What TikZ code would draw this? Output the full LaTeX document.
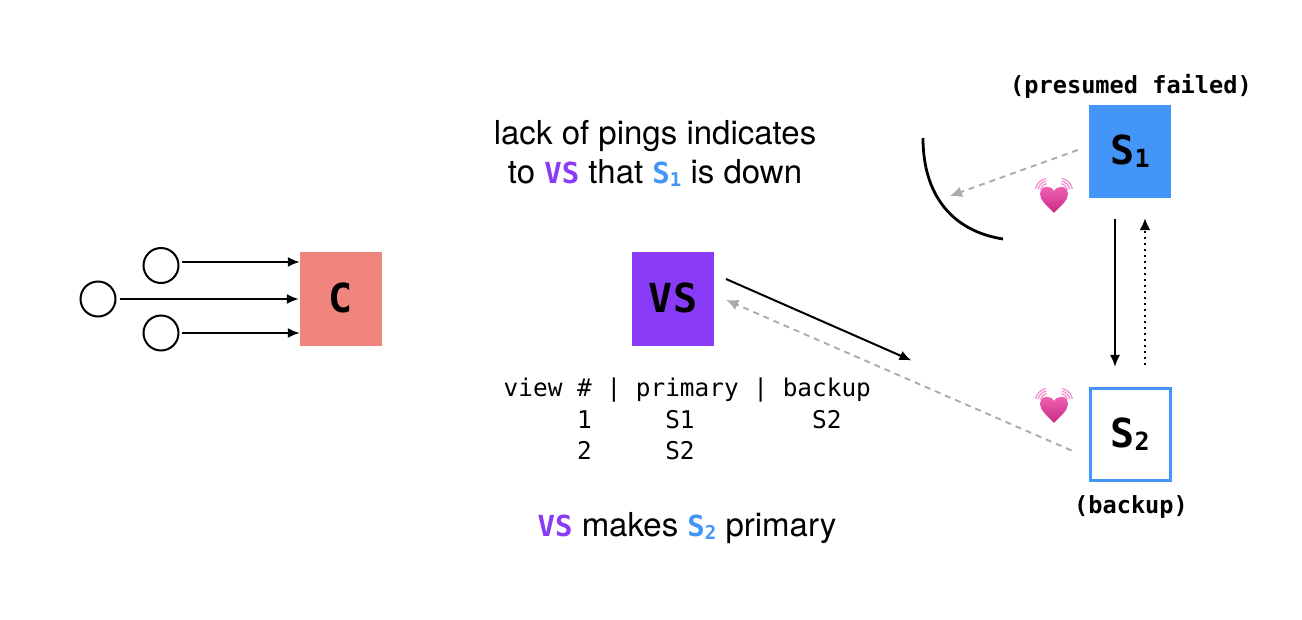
\documentclass[tikz,border=0pt]{standalone}
\usepackage{fontspec}
\setmainfont{TeX Gyre Heros}
\newfontfamily\monof{DejaVu Sans Mono}
\usetikzlibrary{arrows.meta}
\definecolor{cbox}{HTML}{F0857E}
\definecolor{vsc}{HTML}{8A3BF7}
\definecolor{sc}{HTML}{4395F8}
\definecolor{gr}{HTML}{ABABAB}
\definecolor{hearttop}{HTML}{EE62B2}
\definecolor{heartbot}{HTML}{C92A84}
\definecolor{heartarc}{HTML}{F293CF}
\newcommand{\lbl}[2]{\raisebox{-2pt}{{\fontsize{40}{40}\selectfont\bfseries\monof #1}{\fontsize{25}{25}\selectfont\bfseries\monof\raisebox{-3pt}{#2}}}}
\newcommand{\inl}[3]{{\color{#1}\fontsize{29}{29}\selectfont\bfseries\monof #2{\fontsize{19}{19}\selectfont\raisebox{-3pt}{#3}}}}
\newcommand{\beatheart}[2]{%
\begin{scope}[shift={(#1,#2)}]
\shade[top color=hearttop,bottom color=heartbot,draw=none]
 (0,16) .. controls (-6,9) and (-14,4) .. (-14,-3) .. controls (-14,-9) and (-9,-11) .. (-6,-10)
 .. controls (-3,-10) and (-1,-8) .. (0,-6) .. controls (1,-8) and (3,-10) .. (6,-10)
 .. controls (9,-11) and (14,-9) .. (14,-3) .. controls (14,4) and (6,9) .. (0,16) -- cycle;
\foreach \r in {7.5,10,12.5}{
 \draw[heartarc,line width=1.3pt] (-6,-6) ++(-100:\r) arc[start angle=-100,end angle=-170,radius=\r];
 \draw[heartarc,line width=1.3pt] (6,-6) ++(-80:\r) arc[start angle=-80,end angle=-10,radius=\r];
}
\end{scope}}
\tikzset{
 x=1pt,y=-1pt,
 box/.style={minimum width=82pt,minimum height=94pt,inner sep=0pt,draw=none,text=black},
 circ/.style={circle,draw=black,line width=2pt,minimum size=35pt,inner sep=0pt},
 arr/.style={-{Latex[length=12pt,width=10pt]},line width=2pt,black},
 garr/.style={-{Latex[length=12pt,width=11pt]},line width=1.9pt,gr,dash pattern=on 6pt off 5pt},
 dotarr/.style={-{Latex[length=12pt,width=11pt]},line width=2.2pt,black,dash pattern=on 2pt off 4pt},
 body/.style={anchor=base,inner sep=0pt,font=\fontsize{33}{33}\selectfont},
 tabl/.style={anchor=base west,inner sep=0pt,font=\fontsize{24.4}{24.4}\selectfont\monof},
 tag/.style={anchor=base,inner sep=0pt,font=\fontsize{23.6}{23.6}\selectfont\bfseries\monof},
}
\begin{document}
\begin{tikzpicture}
\useasboundingbox (0,0) rectangle (1302,620);
% client side
\node[box,fill=cbox] (C) at (341,299) {\lbl{C}{}};
\node[circ] (t1) at (161,265.5) {};
\node[circ] (t2) at (98,299) {};
\node[circ] (t3) at (161,333) {};
\draw[arr] ([shift={(2,-3.5)}]t1.east) -- ([shift={(0,-37)}]C.west);
\draw[arr] ([shift={(3,0)}]t2.east) -- ([shift={(-1,0)}]C.west);
\draw[arr] ([shift={(2,0)}]t3.east) -- ([shift={(0,34)}]C.west);
% view server
\node[box,fill=vsc] (VS) at (673,299) {\lbl{VS}{}};
% servers
\node[box,fill=sc,minimum height=93pt] (S1) at (1130,151.5) {\lbl{S}{1}};
\node[box,draw=sc,line width=3pt,fill=white,minimum width=80pt,minimum height=92pt] (S2) at (1130,434.5) {\lbl{S}{2}};
% connectors
\draw[arr] ([shift={(53,-20)}]VS.center) -- ([shift={(-177,-74)}]S2.west);
\draw[garr] ([shift={(-17,16)}]S2.west) -- ([shift={(12,1)}]VS.east);
\coordinate (miss) at (950,196);
\draw[garr] ([shift={(-11,-1.5)}]S1.west) -- (miss);
\draw[arr] ([shift={(-15,21)}]S1.south) -- ([shift={(-15,-20)}]S2.north);
\draw[dotarr] ([shift={(15,-22)}]S2.north) -- ([shift={(15,20)}]S1.south);
% failure arc
\coordinate (a1) at (923,138);
\coordinate (a2) at (1003,239);
\draw[line width=2.8pt,black] (a1) .. controls (923,195) and (952,231) .. (a2);
% hearts
\beatheart{1054}{197}
\beatheart{1054}{407}
% text
\node[body] (l1) at (655,145) {lack of pings indicates};
\node[body] (l2) at (655,184) {to \inl{vsc}{VS}{} that \inl{sc}{S}{1} is down};
\node[body] (l3) at (687,536) {\inl{vsc}{VS}{} makes \inl{sc}{S}{2} primary};
\node[tabl] (r1) at (503.5,397) {view~\#~|~primary~|~backup};
\node[tabl] (r2) at (503.5,428.5) {~~~~~1~~~~~S1~~~~~~~~S2};
\node[tabl] (r3) at (503.5,459.5) {~~~~~2~~~~~S2};
\node[tag] (pf) at (1131,93.5) {(presumed failed)};
\node[tag] (bk) at (1131,513) {(backup)};
\end{tikzpicture}
\end{document}
